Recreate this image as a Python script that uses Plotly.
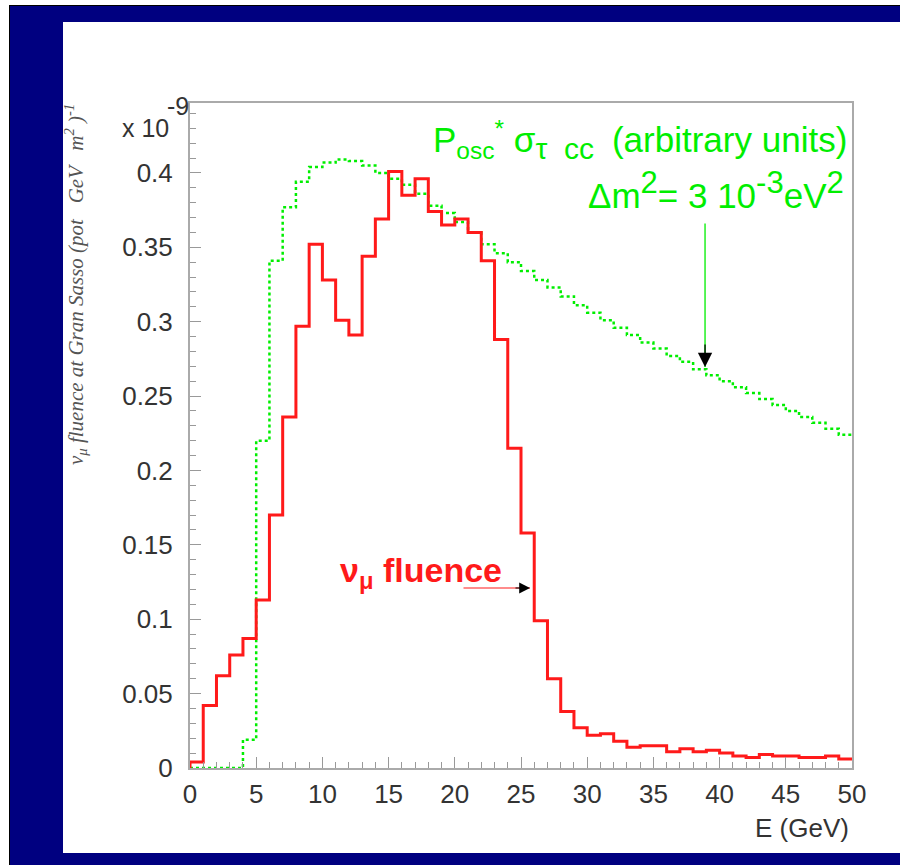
import plotly.graph_objects as go

# ---------------- data ----------------
bin_edges = list(range(0, 51))  # E (GeV), 1 GeV bins

numu_fluence = [0.004, 0.042, 0.062, 0.076, 0.087, 0.113, 0.170, 0.236, 0.297, 0.352,
                0.328, 0.301, 0.291, 0.344, 0.369, 0.401, 0.385, 0.396, 0.374, 0.365,
                0.369, 0.360, 0.341, 0.288, 0.215, 0.158, 0.099, 0.060, 0.038, 0.027,
                0.022, 0.023, 0.018, 0.014, 0.015, 0.015, 0.011, 0.013, 0.011, 0.012,
                0.010, 0.008, 0.007, 0.009, 0.008, 0.008, 0.007, 0.007, 0.008, 0.006]

posc_sigma = [0.0, 0.0, 0.0, 0.0, 0.019, 0.220, 0.341, 0.377, 0.394, 0.404,
              0.407, 0.409, 0.408, 0.405, 0.400, 0.396, 0.392, 0.386, 0.378, 0.373,
              0.367, 0.360, 0.352, 0.346, 0.340, 0.334, 0.328, 0.323, 0.317, 0.311,
              0.306, 0.301, 0.296, 0.291, 0.286, 0.282, 0.277, 0.273, 0.268, 0.264,
              0.260, 0.256, 0.252, 0.248, 0.244, 0.240, 0.236, 0.232, 0.228, 0.224]

y_ticks = [0, 0.05, 0.1, 0.15, 0.2, 0.25, 0.3, 0.35, 0.4]
y_tick_labels = ["0", "0.05", "0.1", "0.15", "0.2", "0.25", "0.3", "0.35", "0.4"]
x_ticks = [0, 5, 10, 15, 20, 25, 30, 35, 40, 45, 50]
x_tick_labels = [str(v) for v in x_ticks]


def step_xy(values):
    xs = [bin_edges[0]] + bin_edges[:-1] + [bin_edges[-1]]
    ys = [0] + values + [values[-1]]
    return xs, ys


W, H = 900, 865
L, R, T, B = 190, 48, 103, 97
PW, PH = W - L - R, H - T - B


def px(x):
    return (x - L) / PW


def py(y):
    return (H - B - y) / PH


FONT = "Liberation Sans, Arial, Helvetica, sans-serif"
GREEN = "#00ee00"
RED = "#ff1a1a"
NAVY = "#000080"

fig = go.Figure()

gx, gy = step_xy(posc_sigma)
fig.add_trace(go.Scatter(x=gx, y=gy, mode="lines", line_shape="hv",
                         line=dict(color=GREEN, width=2.5, dash="dot"),
                         hoverinfo="skip", showlegend=False))
rx, ry = step_xy(numu_fluence)
fig.add_trace(go.Scatter(x=rx, y=ry, mode="lines", line_shape="hv",
                         line=dict(color=RED, width=3),
                         hoverinfo="skip", showlegend=False))


def band(x0, x1, y0, y1, color):
    return dict(type="rect", xref="paper", yref="paper", layer="below",
                x0=px(x0), x1=px(x1), y0=py(y0), y1=py(y1),
                fillcolor=color, line=dict(width=0))


shapes = [
    band(9, 63, 5, 865, NAVY),      # left band
    band(9, 900, 5, 22, NAVY),      # top band
    band(9, 900, 853, 865, NAVY),   # bottom band
    dict(type="line", xref="paper", yref="paper", layer="below",
         x0=px(9.5), x1=px(9.5), y0=py(5), y1=py(865), line=dict(color="black", width=1)),
    dict(type="line", xref="paper", yref="paper", layer="below",
         x0=px(9), x1=px(900), y0=py(5.5), y1=py(5.5), line=dict(color="black", width=1)),
]

SUP = '<sup><span style="font-size:31px">{}</span></sup>'

annotations = [
    # y-axis title
    dict(xref="paper", yref="paper", x=px(75), y=py(285), showarrow=False,
         textangle=-90, xanchor="center", yanchor="middle",
         text="<i>ν<sub>μ</sub> fluence at Gran Sasso (pot   GeV   m<sup>2</sup> )<sup>-1</sup></i>",
         font=dict(family="Liberation Serif, Times New Roman, serif", size=21, color="#555555")),
    # x 10^-9
    dict(xref="paper", yref="paper", x=px(145), y=py(128), showarrow=False,
         xanchor="center", yanchor="middle", text="x 10",
         font=dict(family=FONT, size=25, color="#333333")),
    dict(xref="paper", yref="paper", x=px(178), y=py(106), showarrow=False,
         xanchor="center", yanchor="middle", text="-9",
         font=dict(family=FONT, size=25, color="#333333")),
    # x title
    dict(xref="paper", yref="paper", x=px(851), y=py(828), showarrow=False,
         xanchor="right", yanchor="middle", text="E (GeV)",
         font=dict(family=FONT, size=26, color="#333333")),
    # green labels
    dict(xref="paper", yref="paper", x=px(849), y=py(140), showarrow=False,
         xanchor="right", yanchor="middle",
         text='P<sub>osc</sub><sup>*</sup> σ<sub><span style="font-size:30px">τ  cc </span></sub> (arbitrary units)',
         font=dict(family=FONT, size=35, color=GREEN)),
    dict(xref="paper", yref="paper", x=px(846), y=py(190), showarrow=False,
         xanchor="right", yanchor="middle",
         text="Δm" + SUP.format("2") + "= 3 10" + SUP.format("-3") + "eV" + SUP.format("2"),
         font=dict(family=FONT, size=35, color=GREEN)),
    # green arrow shaft + black head
    dict(x=38.9, y=0.2695, xref="x", yref="y", ax=0, ay=-145, text="",
         showarrow=True, arrowhead=0, arrowwidth=1.3, arrowcolor=GREEN),
    dict(x=38.9, y=0.2695, xref="x", yref="y", ax=0, ay=-24, text="",
         showarrow=True, arrowhead=2, arrowsize=2.2, arrowwidth=1.3, arrowcolor="black"),
    # red label
    dict(xref="paper", yref="paper", x=px(338), y=py(572), showarrow=False,
         xanchor="left", yanchor="middle",
         text="<b>ν<sub>μ</sub> fluence</b>",
         font=dict(family=FONT, size=34, color=RED)),
    dict(x=25.68, y=0.121, xref="x", yref="y", ax=-68, ay=0, text="",
         showarrow=True, arrowhead=0, arrowwidth=1.2, arrowcolor=RED),
    dict(x=25.68, y=0.121, xref="x", yref="y", ax=-16, ay=0, text="",
         showarrow=True, arrowhead=2, arrowsize=1.8, arrowwidth=1.2, arrowcolor="black"),
]

fig.update_layout(
    width=W, height=H,
    margin=dict(l=L, r=R, t=T, b=B),
    paper_bgcolor="white", plot_bgcolor="white",
    shapes=shapes, annotations=annotations,
    showlegend=False,
    font=dict(family=FONT, color="#333333"),
)
fig.update_xaxes(range=[0, 50], tickvals=x_ticks, ticktext=x_tick_labels,
                 ticks="inside", ticklen=11, tickcolor="#999999", tickwidth=1,
                 minor=dict(dtick=1, ticks="inside", ticklen=6, tickcolor="#999999"),
                 showgrid=False, zeroline=False, showline=True, linecolor="#aaaaaa",
                 linewidth=2, mirror=True, tickfont=dict(size=26, color="#333333"),
                 ticklabelstandoff=2)
fig.update_yaxes(range=[0, 0.447], tickvals=y_ticks, ticktext=y_tick_labels,
                 ticks="inside", ticklen=11, tickcolor="#999999", tickwidth=1,
                 minor=dict(dtick=0.01, ticks="inside", ticklen=6, tickcolor="#999999"),
                 showgrid=False, zeroline=False, showline=True, linecolor="#aaaaaa",
                 linewidth=2, mirror=True, tickfont=dict(size=26, color="#333333"),
                 ticklabelstandoff=10)

fig.write_html(
    "out.html",
    config={"displayModeBar": False},
    post_script=(
        "document.body.style.margin='0px';"
        "document.documentElement.style.overflow='hidden';"
        "document.documentElement.style.scrollbarWidth='none';"
        "var d=document.getElementById('{plot_id}');"
        "d.style.position='fixed';d.style.left='0px';d.style.top='0px';"
    ),
)
